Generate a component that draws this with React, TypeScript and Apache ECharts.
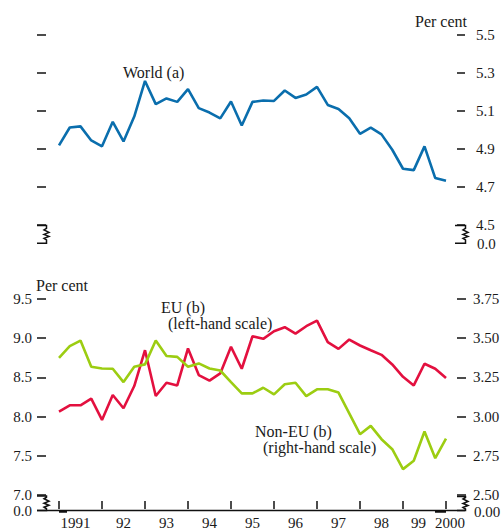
import React, { useEffect, useRef } from "react";
import * as echarts from "echarts";

const quarters = [
  "1991Q1","1991Q2","1991Q3","1991Q4",
  "1992Q1","1992Q2","1992Q3","1992Q4",
  "1993Q1","1993Q2","1993Q3","1993Q4",
  "1994Q1","1994Q2","1994Q3","1994Q4",
  "1995Q1","1995Q2","1995Q3","1995Q4",
  "1996Q1","1996Q2","1996Q3","1996Q4",
  "1997Q1","1997Q2","1997Q3","1997Q4",
  "1998Q1","1998Q2","1998Q3","1998Q4",
  "1999Q1","1999Q2","1999Q3","1999Q4",
  "2000Q1",
];

const yearLabels = ["1991", "92", "93", "94", "95", "96", "97", "98", "99", "2000"];

const world = [
  4.919, 5.013, 5.019, 4.945, 4.914, 5.043, 4.940, 5.071, 5.258, 5.136,
  5.166, 5.148, 5.215, 5.115, 5.092, 5.061, 5.150, 5.024, 5.148, 5.155,
  5.153, 5.208, 5.169, 5.187, 5.227, 5.132, 5.111, 5.062, 4.980, 5.012,
  4.977, 4.896, 4.796, 4.789, 4.914, 4.747, 4.733,
];

const eu = [
  8.064, 8.144, 8.144, 8.229, 7.958, 8.275, 8.106, 8.390, 8.847, 8.263,
  8.432, 8.398, 8.869, 8.530, 8.458, 8.551, 8.890, 8.610, 9.025, 8.992,
  9.089, 9.140, 9.059, 9.153, 9.225, 8.949, 8.864, 8.983, 8.907, 8.847,
  8.788, 8.665, 8.508, 8.398, 8.674, 8.610, 8.492,
];

const nonEu = [
  3.375, 3.449, 3.485, 3.318, 3.307, 3.305, 3.220, 3.318, 3.333, 3.485,
  3.386, 3.381, 3.318, 3.339, 3.307, 3.294, 3.220, 3.148, 3.148, 3.184,
  3.142, 3.206, 3.216, 3.131, 3.174, 3.174, 3.153, 3.021, 2.888, 2.941,
  2.856, 2.792, 2.665, 2.718, 2.905, 2.735, 2.860,
];

const FONT_FAMILY = "'Liberation Serif', 'Times New Roman', serif";
const TEXT = "#1a1a1a";
const BLUE = "#0a6ead";
const RED = "#e3103f";
const GREEN = "#9ccd12";

function txt(text: string, x: number, y: number, align: string = "left", size: number = 16) {
  return {
    type: "text",
    x,
    y,
    silent: true,
    style: {
      text,
      fill: TEXT,
      font: `${size}px ${FONT_FAMILY}`,
      align,
      verticalAlign: "middle",
      textAlign: align,
      textVerticalAlign: "middle",
    },
  };
}

function breakMark(x: number, yTop: number, yBot: number, xOuter: number, topLine: boolean) {
  const mid = (yTop + yBot) / 2;
  const pts: number[][] = [];
  if (topLine) pts.push([xOuter, yTop]);
  pts.push([x, yTop]);
  pts.push([x, mid - 6]);
  pts.push([x - 2.5, mid - 4.5]);
  pts.push([x + 2.5, mid - 2]);
  pts.push([x - 2.5, mid]);
  pts.push([x + 2.5, mid + 2]);
  pts.push([x - 2.5, mid + 4]);
  pts.push([x, mid + 5.5]);
  pts.push([x, yBot]);
  pts.push([xOuter, yBot]);
  return {
    type: "polyline",
    silent: true,
    shape: { points: pts },
    style: { stroke: "#111", lineWidth: 1.5, fill: null },
  };
}

export default function App() {
  const ref = useRef<HTMLDivElement>(null);

  useEffect(() => {
    if (!ref.current) return;
    const chart = echarts.init(ref.current, null, { renderer: "svg" });

    const tickStyle = { color: "#111", width: 1.5 };
    const labelStyle = { color: TEXT, fontFamily: FONT_FAMILY, fontSize: 15 };

    const option: any = {
      animation: false,
      backgroundColor: "#ffffff",
      textStyle: { fontFamily: FONT_FAMILY },
      grid: [
        { left: 59, right: 58, top: 35, height: 190 },
        { left: 59, right: 58, top: 299, height: 197 },
      ],
      xAxis: [
        {
          type: "category",
          gridIndex: 0,
          data: quarters,
          boundaryGap: false,
          show: false,
        },
        {
          type: "category",
          gridIndex: 1,
          data: quarters,
          boundaryGap: false,
          position: "bottom",
          offset: 14,
          axisLine: { show: false },
          axisTick: {
            show: true,
            inside: true,
            length: 8,
            interval: (i: number) => i % 4 === 0,
            lineStyle: tickStyle,
          },
          axisLabel: {
            ...labelStyle,
            margin: 6,
            interval: (i: number) => i % 4 === 2 || i === 36,
            formatter: (_v: string, i: number) => {
              const lab = yearLabels[Math.floor(i / 4)];
              if (i === 2) return `{l|${lab}}`;
              if (i === 34) return `{m|${lab}}`;
              if (i === 36) return `{r|${lab}}`;
              return lab;
            },
            rich: {
              l: { ...labelStyle, padding: [0, 10, 0, 0] },
              m: { ...labelStyle, padding: [0, 12, 0, 0] },
              r: { ...labelStyle, padding: [0, 0, 0, 8] },
            },
          },
          splitLine: { show: false },
        },
      ],
      yAxis: [
        {
          type: "value",
          gridIndex: 0,
          position: "right",
          offset: 11,
          min: 4.5,
          max: 5.5,
          interval: 0.2,
          axisLine: { show: false },
          axisTick: { show: true, length: 8, lineStyle: tickStyle },
          axisLabel: {
            ...labelStyle,
            margin: 19,
            formatter: (v: number) => v.toFixed(1),
          },
          splitLine: { show: false },
        },
        {
          type: "value",
          gridIndex: 0,
          position: "left",
          offset: 13,
          min: 4.5,
          max: 5.5,
          interval: 0.2,
          axisLine: { show: false },
          axisTick: { show: true, length: 9, lineStyle: tickStyle },
          axisLabel: { show: false },
          splitLine: { show: false },
        },
        {
          type: "value",
          gridIndex: 1,
          position: "left",
          offset: 13,
          min: 7.0,
          max: 9.5,
          interval: 0.5,
          axisLine: { show: false },
          axisTick: { show: true, length: 9, lineStyle: tickStyle },
          axisLabel: {
            ...labelStyle,
            margin: 14,
            formatter: (v: number) => v.toFixed(1),
          },
          splitLine: { show: false },
        },
        {
          type: "value",
          gridIndex: 1,
          position: "right",
          offset: 11,
          min: 2.5,
          max: 3.75,
          interval: 0.25,
          axisLine: { show: false },
          axisTick: { show: true, length: 9, lineStyle: tickStyle },
          axisLabel: {
            ...labelStyle,
            margin: 16,
            formatter: (v: number) => v.toFixed(2),
          },
          splitLine: { show: false },
        },
      ],
      series: [
        {
          name: "World (a)",
          type: "line",
          xAxisIndex: 0,
          yAxisIndex: 0,
          data: world,
          showSymbol: false,
          symbol: "none",
          lineStyle: { color: BLUE, width: 2.6 },
          itemStyle: { color: BLUE },
        },
        {
          name: "EU (b)",
          type: "line",
          xAxisIndex: 1,
          yAxisIndex: 2,
          data: eu,
          showSymbol: false,
          symbol: "none",
          lineStyle: { color: RED, width: 2.6 },
          itemStyle: { color: RED },
        },
        {
          name: "Non-EU (b)",
          type: "line",
          xAxisIndex: 1,
          yAxisIndex: 3,
          data: nonEu,
          showSymbol: false,
          symbol: "none",
          lineStyle: { color: GREEN, width: 2.6 },
          itemStyle: { color: GREEN },
        },
      ],
      graphic: [
        // baseline of lower panel
        {
          type: "line",
          silent: true,
          shape: { x1: 37, y1: 510.5, x2: 465, y2: 510.5 },
          style: { stroke: "#111", lineWidth: 1.5 },
        },
        {
          type: "line",
          silent: true,
          shape: { x1: 59, y1: 511.5, x2: 67, y2: 511.5 },
          style: { stroke: "#111", lineWidth: 2.5 },
        },
        {
          type: "line",
          silent: true,
          shape: { x1: 435, y1: 511.5, x2: 446, y2: 511.5 },
          style: { stroke: "#111", lineWidth: 2.5 },
        },
        // axis breaks
        breakMark(46.5, 225.5, 243.3, 37, true),
        breakMark(465.5, 225.5, 243.3, 455, true),
        breakMark(46.5, 496, 510.5, 37, true),
        breakMark(465.5, 496.5, 510.5, 457, true),
        // break labels
        txt("0.0", 477, 244, "left", 15),
        txt("0.0", 32, 511, "right", 15),
        txt("0.00", 474, 512, "left", 15),
        // axis titles
        txt("Per cent", 415, 21, "left"),
        txt("Per cent", 36, 285, "left"),
        // series labels
        txt("World (a)", 123, 72, "left"),
        txt("EU (b)", 161, 307, "left"),
        txt("(left-hand scale)", 168, 323, "left"),
        txt("Non-EU (b)", 255, 431, "left"),
        txt("(right-hand scale)", 263, 447, "left"),
      ],
    };

    chart.setOption(option);
    return () => chart.dispose();
  }, []);

  return (
    <div
      ref={ref}
      style={{ position: "absolute", left: 0, top: 0, width: 504, height: 530, background: "#fff" }}
    />
  );
}
